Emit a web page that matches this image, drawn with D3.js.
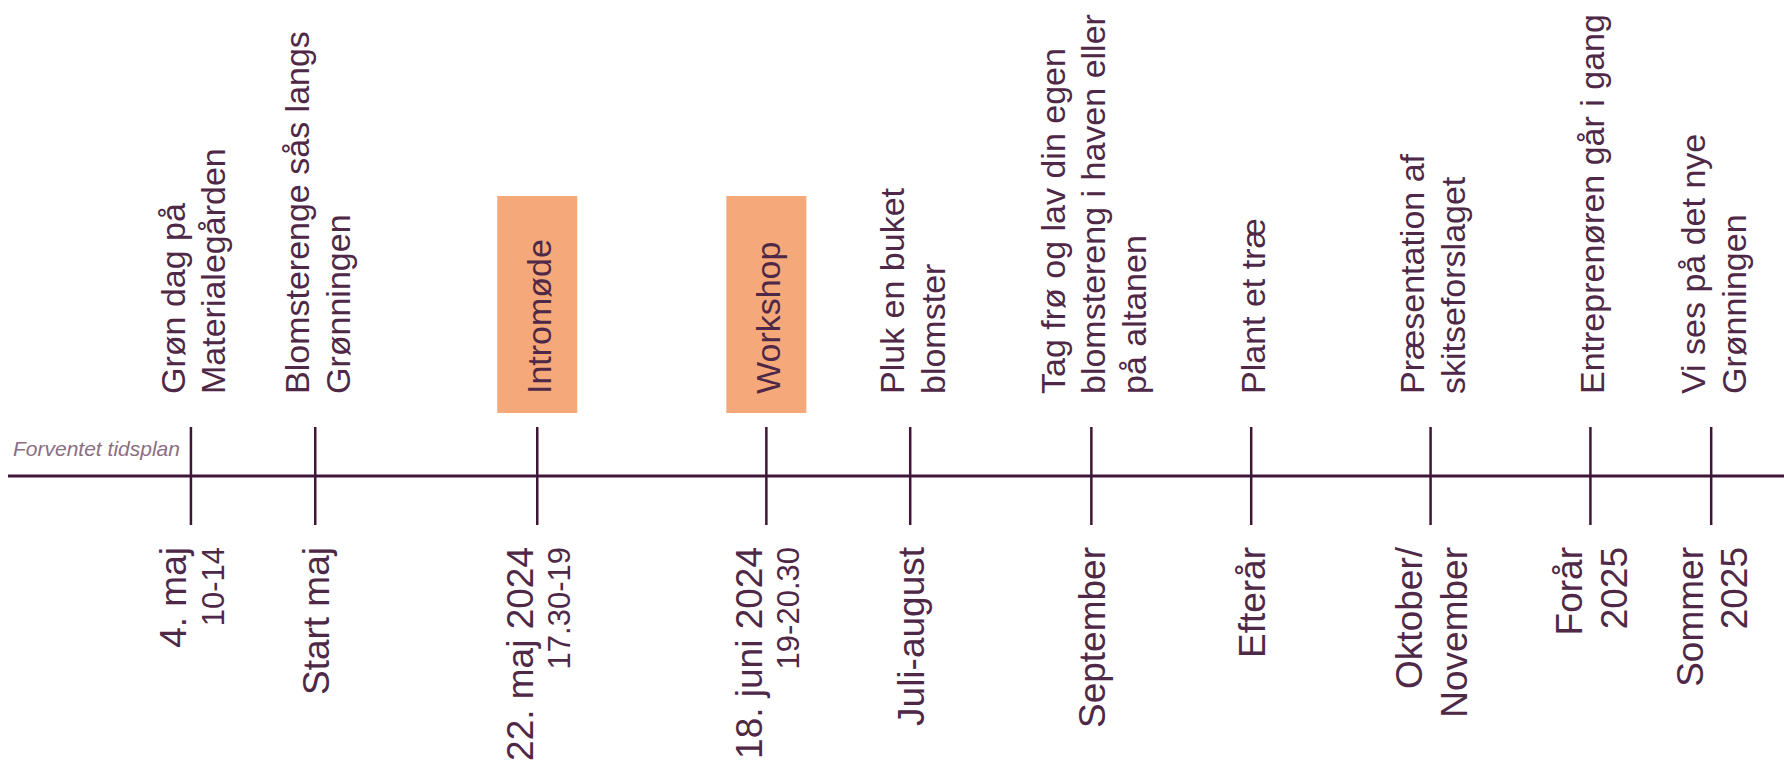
<!DOCTYPE html>
<html>
<head>
<meta charset="utf-8">
<script src="https://cdn.jsdelivr.net/npm/d3@7"></script>
<style>
  html, body { margin: 0; padding: 0; background: #ffffff; }
  svg { display: block; }
</style>
</head>
<body>
<div id="chart"></div>
<script>
// ---- data ----
const eventPositions = [10.3, 17.3, 29.8, 42.7, 50.8, 61.0, 70.0, 80.1, 89.1, 95.9];
const eventTitles = [
  ["Grøn dag på", "Materialegården"],
  ["Blomsterenge sås langs", "Grønningen"],
  ["Intromøde"],
  ["Workshop"],
  ["Pluk en buket", "blomster"],
  ["Tag frø og lav din egen", "blomstereng i haven eller", "på altanen"],
  ["Plant et træ"],
  ["Præsentation af", "skitseforslaget"],
  ["Entreprenøren går i gang"],
  ["Vi ses på det nye", "Grønningen"]
];
const eventDates = [
  ["4. maj"], ["Start maj"], ["22. maj 2024"], ["18. juni 2024"], ["Juli-august"],
  ["September"], ["Efterår"], ["Oktober/", "November"], ["Forår", "2025"], ["Sommer", "2025"]
];
const eventTimes = ["10-14", "", "17.30-19", "19-20.30", "", "", "", "", "", ""];
const highlighted = [false, false, true, true, false, false, false, false, false, false];
const axisCaption = "Forventet tidsplan";

// ---- layout ----
const W = 1784, H = 769;
const axisY = 476;
const lineColor = "#401638";
const textColor = "#4e2846";
const font = "'Liberation Sans', Arial, sans-serif";

const x = d3.scaleLinear().domain([0, 100]).range([8, W]);

const svg = d3.select("#chart").append("svg")
  .attr("width", W).attr("height", H);

// highlight boxes
svg.selectAll("rect.hl")
  .data(eventPositions.map((p, i) => ({p, i})).filter(d => highlighted[d.i]))
  .join("rect")
  .attr("class", "hl")
  .attr("x", d => x(d.p) - 40)
  .attr("y", 196)
  .attr("width", 80)
  .attr("height", 217)
  .attr("fill", "#f5a97b");

// main axis line
svg.append("line")
  .attr("x1", x(0)).attr("x2", x(100))
  .attr("y1", axisY).attr("y2", axisY)
  .attr("stroke", lineColor).attr("stroke-width", 3);

// ticks
svg.selectAll("line.tick")
  .data(eventPositions)
  .join("line")
  .attr("class", "tick")
  .attr("x1", d => x(d)).attr("x2", d => x(d))
  .attr("y1", axisY - 49).attr("y2", axisY + 49)
  .attr("stroke", lineColor).attr("stroke-width", 2.5);

// caption
svg.append("text")
  .attr("x", 13).attr("y", 456)
  .attr("font-family", font)
  .attr("font-style", "italic")
  .attr("font-size", 21)
  .attr("fill", "#8a6e82")
  .text(axisCaption);

// helper: compute baseline offsets, centered so mean = +14
function layoutLines(lines) {
  let offs = [], cur = 0;
  lines.forEach((l, i) => {
    if (i > 0) cur += l.size * 1.2;
    offs.push(cur);
  });
  const mean = d3.mean(offs);
  return lines.map((l, i) => ({...l, off: offs[i] - mean + 14}));
}

// top labels
eventPositions.forEach((p, i) => {
  const lines = layoutLines(eventTitles[i].map(t => ({text: t, size: 34})));
  const g = svg.append("g");
  lines.forEach(l => {
    g.append("text")
      .attr("transform", `translate(${x(p) + l.off},394) rotate(-90)`)
      .attr("text-anchor", "start")
      .attr("font-family", font)
      .attr("font-size", l.size)
      .attr("fill", textColor)
      .text(l.text);
  });
});

// bottom labels
eventPositions.forEach((p, i) => {
  let arr = eventDates[i].map(t => ({text: t, size: 37}));
  if (eventTimes[i]) arr.push({text: eventTimes[i], size: 31});
  const lines = layoutLines(arr);
  const g = svg.append("g");
  lines.forEach(l => {
    g.append("text")
      .attr("transform", `translate(${x(p) + l.off},547) rotate(-90)`)
      .attr("text-anchor", "end")
      .attr("font-family", font)
      .attr("font-size", l.size)
      .attr("fill", textColor)
      .text(l.text);
  });
});
</script>
</body>
</html>
